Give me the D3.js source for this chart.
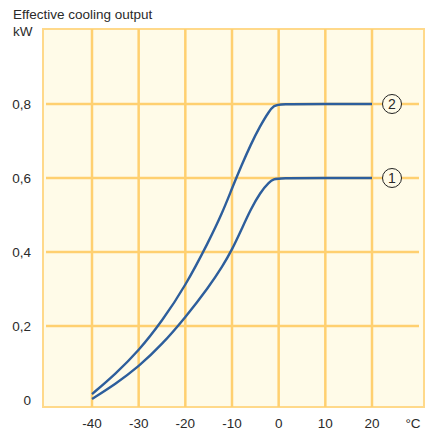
<!DOCTYPE html>
<html><head><meta charset="utf-8">
<script src="https://cdn.jsdelivr.net/npm/d3@7/dist/d3.min.js"></script>
<style>body{margin:0;background:#fff}svg{display:block}text{font-family:"Liberation Sans",Arial,sans-serif;fill:#2a2a2a}</style>
</head><body><svg id="c" width="428" height="432"></svg>
<script>
const temps   = [-40,-35,-30,-25,-20,-15,-12,-10,-8,-6,-4,-2,-1,0,10,20];
const series1 = [0.003,0.043,0.09,0.15,0.223,0.305,0.362,0.406,0.46,0.515,0.56,0.59,0.597,0.6,0.6,0.6];
const series2 = [0.016,0.07,0.133,0.213,0.308,0.428,0.508,0.572,0.633,0.69,0.74,0.782,0.795,0.8,0.8,0.8];
const xTicks = [-40,-30,-20,-10,0,10,20];
const yTicks = [0,0.2,0.4,0.6,0.8];
const seriesLabels = ["1","2"];

const svg = d3.select("#c");
const x = d3.scaleLinear().domain([-40,20]).range([92,372]);
const y = d3.scaleLinear().domain([0,0.8]).range([400,104]);
const frame = {l:43,t:29,r:424,b:407};

svg.append("rect").attr("x",frame.l).attr("y",frame.t).attr("width",frame.r-frame.l).attr("height",frame.b-frame.t)
  .attr("fill","#fffbe8").attr("stroke","#ffd98a").attr("stroke-width",2);

const g = svg.append("g");
g.selectAll("line.v").data(xTicks).join("line")
  .attr("x1",d=>x(d)).attr("x2",d=>x(d)).attr("y1",frame.t).attr("y2",frame.b)
  .attr("stroke","#ffd070").attr("stroke-width",2.5);
g.selectAll("line.h").data(yTicks.filter(d=>d>0)).join("line")
  .attr("x1",46).attr("x2",419).attr("y1",d=>y(d)).attr("y2",d=>y(d))
  .attr("stroke","#ffd070").attr("stroke-width",2.5);

const line = d3.line().x((d,i)=>x(temps[i])).y(d=>y(d)).curve(d3.curveBasis);
[series1,series2].forEach(s=>{
  svg.append("path").attr("d",line(s)).attr("fill","none").attr("stroke","#2d5e9c").attr("stroke-width",2.4);
});

[series1,series2].forEach((s,i)=>{
  const cy = y(s[s.length-1]);
  svg.append("circle").attr("cx",392).attr("cy",cy).attr("r",9.5).attr("fill","#fffbe8").attr("stroke","#222").attr("stroke-width",1);
  svg.append("text").attr("x",392).attr("y",cy+5).attr("text-anchor","middle").attr("font-size",14).text(seriesLabels[i]);
});

svg.selectAll("text.yt").data(yTicks).join("text")
  .attr("x",31).attr("y",d=>y(d)+5).attr("text-anchor","end").attr("font-size",13.5)
  .text(d=>d===0?"0":d3.format(".1f")(d).replace(".",","));
svg.selectAll("text.xt").data(xTicks).join("text")
  .attr("x",d=>x(d)).attr("y",428).attr("text-anchor","middle").attr("font-size",13.5)
  .text(d=>d);
svg.append("text").attr("x",413).attr("y",428).attr("text-anchor","middle").attr("font-size",13.5).text("°C");
svg.append("text").attr("x",13).attr("y",19).attr("font-size",13.5).text("Effective cooling output");
svg.append("text").attr("x",13).attr("y",36).attr("font-size",13.5).text("kW");
</script></body></html>
